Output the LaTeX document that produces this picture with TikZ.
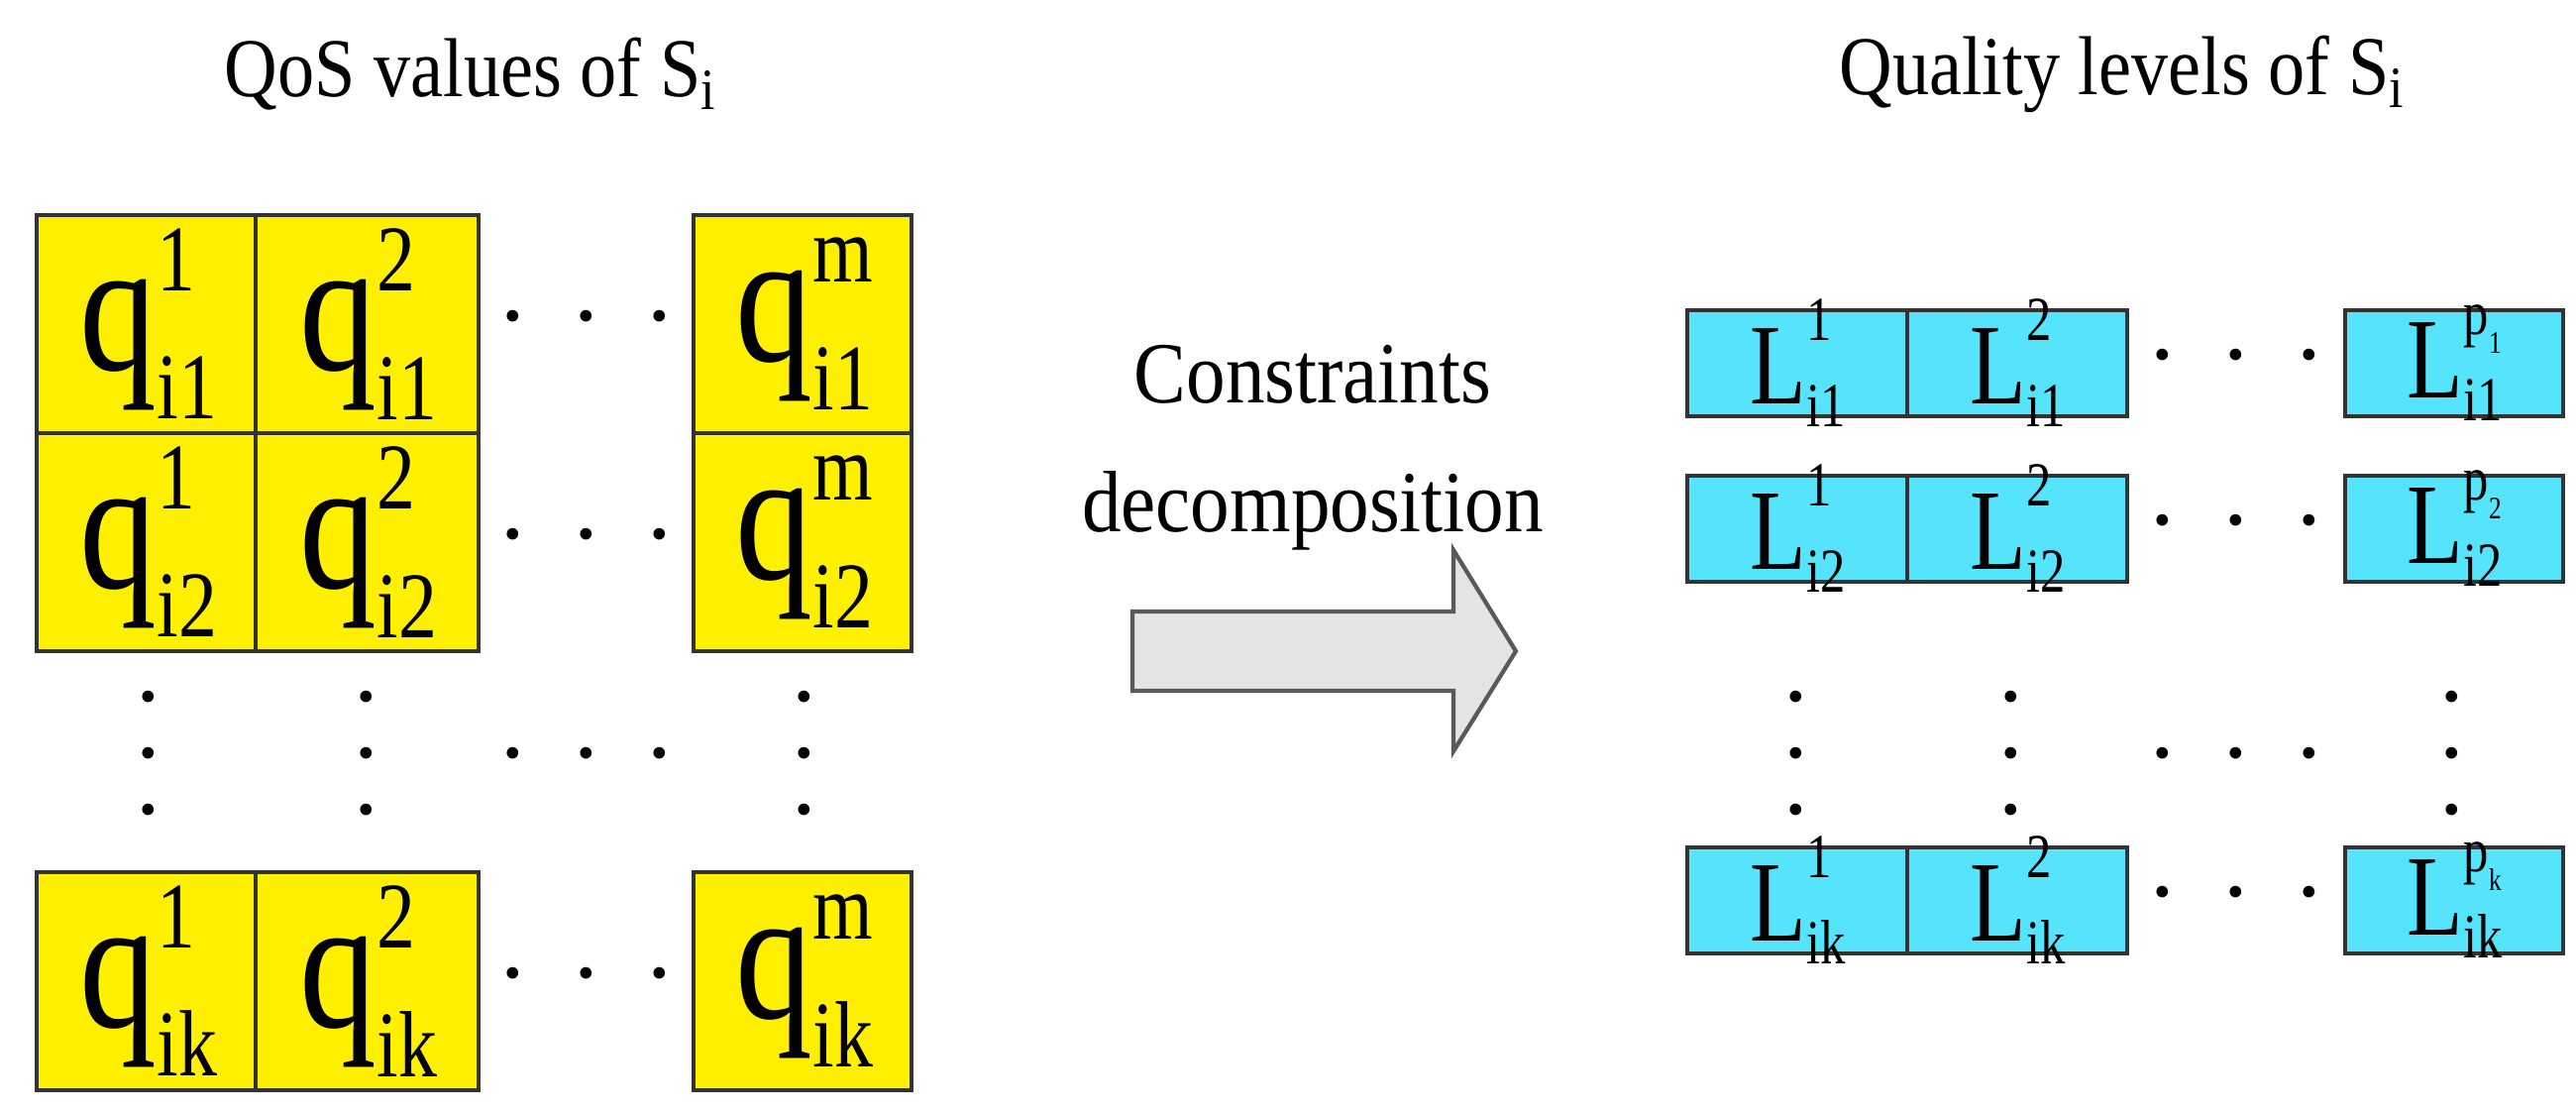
\documentclass[tikz,border=0pt]{standalone}
\usepackage{fontspec}
\setmainfont{Liberation Serif}
\definecolor{yel}{HTML}{FFF000}
\definecolor{cyn}{HTML}{55E4FC}
\definecolor{arr}{HTML}{E4E4E4}
\newcommand\qcell[2]{\scalebox{0.82}[1]{\fontsize{54}{54}\selectfont q\rlap{\raisebox{0.42em}{\fontsize{27}{27}\selectfont #1}}\raisebox{-0.26em}{\fontsize{27}{27}\selectfont #2}}}
\newcommand\lcell[2]{\scalebox{0.8}[1]{\fontsize{33}{33}\selectfont L\rlap{\raisebox{0.55em}{\fontsize{18}{18}\selectfont #1}}\raisebox{-0.2em}{\fontsize{18}{18}\selectfont #2}}}
\newcommand\pp[1]{p\raisebox{-0.3em}{\fontsize{9}{9}\selectfont #1}}
\newcommand\hd{.\hspace{0.5em}.\hspace{0.5em}.}
\newcommand\vd{.\\[-0.42em].\\[-0.42em].}
\begin{document}
\begin{tikzpicture}[x=0.01cm,y=-0.01cm,
  ycell/.style={draw=black!80,line width=1.2pt,fill=yel},
  ccell/.style={draw=black!80,line width=1.2pt,fill=cyn},
  lbl/.style={inner sep=0pt,anchor=center},
  dots/.style={font=\fontsize{28}{28}\selectfont,inner sep=0pt,align=center},
  title/.style={font=\fontsize{24}{28}\selectfont,align=center}]
\useasboundingbox (0,0) rectangle (2600,1124);
% titles
\node[title] (t1) at (475,75) {\scalebox{0.88}[1]{QoS values of S\textsubscript{i}}};
\node[title] (t2) at (2142,75) {\scalebox{0.88}[1]{Quality levels of S\textsubscript{i}}};
% yellow grid
\foreach \r/\ya/\yb/\s in {1/217/437/i1,2/437/657/i2,k/880/1100/ik}{
  \draw[ycell] (37,\ya) rectangle (258,\yb);
  \draw[ycell] (258,\ya) rectangle (483,\yb);
  \draw[ycell] (700,\ya) rectangle (920,\yb);
  \node[lbl] (q1\r) at (150,{(\ya+\yb)/2}) {\qcell{1}{\s}};
  \node[lbl] (q2\r) at (372,{(\ya+\yb)/2}) {\qcell{2}{\s}};
  \node[lbl] (qm\r) at (812,{(\ya+\yb)/2}) {\qcell{m}{\s}};
  \node[dots] (qd\r) at (592,{(\ya+\yb)/2-8}) {\hd};
}
\foreach \x/\n in {150/a,370/b,812/c}{
  \node[dots] (qv\n) at (\x,760) {\vd};
}
\node[dots] (qdm) at (592,760) {\hd};
% arrow
\draw[draw=black!65,fill=arr,line width=1.2pt] (1143,617) -- (1467,617) -- (1467,555) -- (1530,657) -- (1467,758) -- (1467,697) -- (1143,697) -- cycle;
\node[title,font=\fontsize{25}{37}\selectfont] (cd) at (1325,452) {\scalebox{0.9}[1]{Constraints}\\\scalebox{0.9}[1]{decomposition}};
% cyan grid
\foreach \r/\ya/\yb/\s/\p in {1/313/420/i1/\pp{1},2/480/587/i2/\pp{2},k/855/962/ik/\pp{k}}{
  \draw[ccell] (1703,\ya) rectangle (1925,\yb);
  \draw[ccell] (1925,\ya) rectangle (2147,\yb);
  \draw[ccell] (2367,\ya) rectangle (2587,\yb);
  \node[lbl] (l1\r) at (1815,{(\ya+\yb)/2}) {\lcell{1}{\s}};
  \node[lbl] (l2\r) at (2037,{(\ya+\yb)/2}) {\lcell{2}{\s}};
  \node[lbl] (lp\r) at (2478,{(\ya+\yb)/2}) {\lcell{\p}{\s}};
  \node[dots] (ld\r) at (2257,{(\ya+\yb)/2-8}) {\hd};
}
\foreach \x/\n in {1813/a,2030/b,2475/c}{
  \node[dots] (lv\n) at (\x,760) {\vd};
}
\node[dots] (ldm) at (2257,760) {\hd};
\end{tikzpicture}
\end{document}
